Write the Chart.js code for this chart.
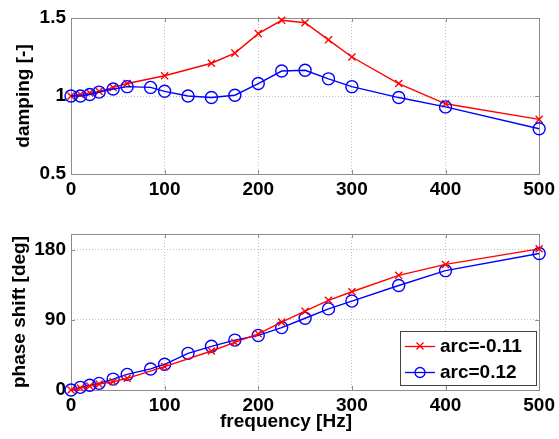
<!DOCTYPE html>
<html>
<head>
<meta charset="utf-8">
<script src="https://cdn.jsdelivr.net/npm/chart.js@4.4.1/dist/chart.umd.min.js"></script>
<style>
  html, body { margin: 0; padding: 0; background: #fff; }
  #wrap { position: relative; width: 559px; height: 439px; overflow: hidden; }
  canvas { position: absolute; left: 0; }
</style>
</head>
<body>
<div id="wrap">
  <canvas id="top" width="559" height="210" style="top:0px"></canvas>
  <canvas id="bot" width="559" height="229" style="top:210px"></canvas>
</div>
<script>
// ---- data ----
const freqRed   = [0, 10, 20, 30, 45, 60, 100, 150, 175, 200, 225, 250, 275, 300, 350, 400, 500];
const dampRed   = [1.0, 1.01, 1.02, 1.03, 1.055, 1.08, 1.13, 1.21, 1.275, 1.40, 1.485, 1.47, 1.36, 1.25, 1.08, 0.95, 0.85];
const phaseRed  = [0, 2.5, 5, 7.5, 10.5, 15, 30, 50, 61, 72, 87, 101, 115, 126, 147, 161, 181];

const freqBlue  = [0, 10, 20, 30, 45, 60, 85, 100, 125, 150, 175, 200, 225, 250, 275, 300, 350, 400, 500];
const dampBlue  = [1.0, 1.0, 1.01, 1.025, 1.045, 1.06, 1.055, 1.03, 1.0, 0.99, 1.005, 1.08, 1.16, 1.165, 1.11, 1.06, 0.99, 0.93, 0.79];
const phaseBlue = [0, 3.4, 6, 8.5, 14, 20, 27, 33, 47, 56, 64, 70, 80, 92, 104, 114, 134, 153, 175];

const labelRed  = 'arc=-0.11';
const labelBlue = 'arc=0.12';
const xTicks     = [0, 100, 200, 300, 400, 500];
const dampTicks  = [0.5, 1, 1.5];
const phaseTicks = [0, 90, 180];

const FONT = '"Liberation Sans", Arial, Helvetica, sans-serif';
const RED = 'rgb(255,0,0)';
const BLUE = 'rgb(0,0,255)';

function pts(xs, ys) { return xs.map((x, i) => ({ x: x, y: ys[i] })); }

function redDs(ys) {
  return {
    label: labelRed, data: pts(freqRed, ys),
    borderColor: RED, borderWidth: 1.4, backgroundColor: RED,
    pointStyle: 'crossRot', pointRadius: 5, pointBorderWidth: 1.4,
    pointBorderColor: RED, tension: 0, clip: false
  };
}
function blueDs(ys) {
  return {
    label: labelBlue, data: pts(freqBlue, ys),
    borderColor: BLUE, borderWidth: 1.4, backgroundColor: 'rgba(0,0,0,0)',
    pointStyle: 'circle', pointRadius: 6, pointBorderWidth: 1.4,
    pointBorderColor: BLUE, tension: 0, clip: false
  };
}

const framePlugin = {
  id: 'frame',
  beforeDatasetsDraw(chart) {
    const { ctx, chartArea: a, scales } = chart;
    ctx.save();
    ctx.strokeStyle = '#8c8c8c';
    ctx.lineWidth = 1;
    ctx.strokeRect(Math.round(a.left) + 0.5, Math.round(a.top) + 0.5,
                   Math.round(a.right - a.left), Math.round(a.bottom - a.top));
    const tl = 4;
    ctx.beginPath();
    scales.x.ticks.forEach(t => {
      const px = Math.round(scales.x.getPixelForValue(t.value)) + 0.5;
      ctx.moveTo(px, a.bottom); ctx.lineTo(px, a.bottom - tl);
      ctx.moveTo(px, a.top); ctx.lineTo(px, a.top + tl);
    });
    scales.y.ticks.forEach(t => {
      const py = Math.round(scales.y.getPixelForValue(t.value)) + 0.5;
      ctx.moveTo(a.left, py); ctx.lineTo(a.left + tl, py);
      ctx.moveTo(a.right, py); ctx.lineTo(a.right - tl, py);
    });
    ctx.stroke();
    ctx.restore();
  }
};

function baseOptions(ymin, ymax, yticks, ytitle, ytitlePad, xHeight, padTop) {
  return {
    responsive: false, animation: false, devicePixelRatio: 1,
    layout: { padding: { left: 0, right: 19, top: padTop, bottom: 0 } },
    plugins: { legend: { display: false }, tooltip: { enabled: false } },
    scales: {
      x: {
        type: 'linear', min: 0, max: 500,
        afterBuildTicks: s => { s.ticks = xTicks.map(v => ({ value: v })); },
        afterFit: s => { s.height = xHeight; },
        grid: { color: '#c0c0c0', drawTicks: false, lineWidth: 1 },
        border: { display: false, dash: [1, 2] },
        ticks: { color: '#000', padding: 4, font: { family: FONT, size: 19, weight: 'bold', lineHeight: 1.2 }, maxRotation: 0,
                 callback: v => String(v) }
      },
      y: {
        type: 'linear', min: ymin, max: ymax,
        afterBuildTicks: s => { s.ticks = yticks.map(v => ({ value: v })); },
        afterFit: s => { s.width = 71; },
        grid: { color: '#c0c0c0', drawTicks: false, lineWidth: 1 },
        border: { display: false, dash: [1, 2] },
        ticks: { color: '#000', padding: 5, font: { family: FONT, size: 19, weight: 'bold', lineHeight: 1.2 },
                 callback: v => String(v) },
        title: { display: true, text: ytitle, color: '#000', padding: { top: ytitlePad, bottom: 0 },
                 font: { family: FONT, size: 19, weight: 'bold', lineHeight: 1.2 } }
      }
    }
  };
}

// top chart
new Chart(document.getElementById('top'), {
  type: 'line',
  data: { datasets: [blueDs(dampBlue), redDs(dampRed)] },
  options: baseOptions(0.5, 1.5, dampTicks, 'damping [-]', 12, 36, 18),
  plugins: [framePlugin]
});

// bottom chart
const legendPlugin = {
  id: 'boxLegend',
  afterDraw(chart) {
    const { ctx } = chart;
    ctx.save();
    ctx.fillStyle = '#fff';
    ctx.fillRect(400, 121, 136, 54);
    ctx.strokeStyle = '#444';
    ctx.lineWidth = 1;
    ctx.strokeRect(400.5, 121.5, 136, 54);
    const rows = [
      { y: 136, color: RED, style: 'x', text: labelRed },
      { y: 162, color: BLUE, style: 'o', text: labelBlue }
    ];
    rows.forEach(r => {
      ctx.strokeStyle = r.color; ctx.lineWidth = 1.3;
      ctx.beginPath(); ctx.moveTo(405, r.y + 0.5); ctx.lineTo(435, r.y + 0.5); ctx.stroke();
      ctx.beginPath();
      if (r.style === 'x') {
        ctx.moveTo(416.5, r.y - 3.5); ctx.lineTo(423.5, r.y + 3.5);
        ctx.moveTo(423.5, r.y - 3.5); ctx.lineTo(416.5, r.y + 3.5);
      } else {
        ctx.arc(420, r.y + 0.5, 5, 0, Math.PI * 2);
      }
      ctx.stroke();
      ctx.fillStyle = '#000';
      ctx.font = 'bold 19px ' + FONT;
      ctx.textAlign = 'left'; ctx.textBaseline = 'middle';
      ctx.fillText(r.text, 440, r.y + 1);
    });
    // x-axis title
    ctx.fillStyle = '#000';
    ctx.font = 'bold 19px ' + FONT;
    ctx.textAlign = 'center'; ctx.textBaseline = 'middle';
    ctx.fillText('frequency [Hz]', 286, 212);
    ctx.restore();
  }
};

new Chart(document.getElementById('bot'), {
  type: 'line',
  data: { datasets: [redDs(phaseRed), blueDs(phaseBlue)] },
  options: baseOptions(0, 200, phaseTicks, 'phase shift [deg]', 8, 49, 24),
  plugins: [framePlugin, legendPlugin]
});
</script>
</body>
</html>
